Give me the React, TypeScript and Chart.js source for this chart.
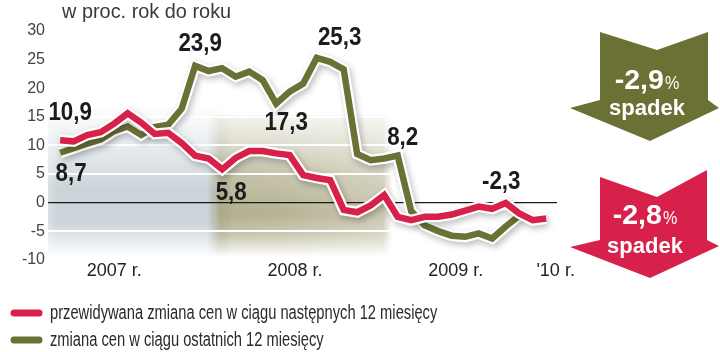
import React, { useEffect, useRef } from 'react';
import { Chart, registerables } from 'chart.js';

Chart.register(...registerables);

// ---------- DATA ----------
const MONTHS = [
  'I 2007', 'II 2007', 'III 2007', 'IV 2007', 'V 2007', 'VI 2007', 'VII 2007', 'VIII 2007', 'IX 2007', 'X 2007', 'XI 2007', 'XII 2007',
  'I 2008', 'II 2008', 'III 2008', 'IV 2008', 'V 2008', 'VI 2008', 'VII 2008', 'VIII 2008', 'IX 2008', 'X 2008', 'XI 2008', 'XII 2008',
  'I 2009', 'II 2009', 'III 2009', 'IV 2009', 'V 2009', 'VI 2009', 'VII 2009', 'VIII 2009', 'IX 2009', 'X 2009', 'XI 2009', 'XII 2009',
  'I 2010',
];

// przewidywana zmiana cen w ciągu następnych 12 miesięcy
const EXPECTED_CHANGE = [
  10.9, 10.7, 11.8, 12.3, 13.8, 15.6, 14.0, 12.0, 12.2, 10.4, 8.2, 7.7,
  5.8, 7.8, 9.0, 9.0, 8.6, 8.3, 4.8, 4.3, 3.9, -1.3, -1.7, -0.5,
  1.3, -2.5, -3.1, -2.5, -2.5, -2.1, -1.4, -0.7, -1.1, -0.1, -1.9, -3.1,
  -2.8,
];

// zmiana cen w ciągu ostatnich 12 miesięcy
const PAST_CHANGE = [
  8.7, 9.5, 10.3, 11.0, 12.5, 13.3, 11.8, 13.2, 13.6, 16.4, 23.9, 23.0,
  23.5, 22.0, 22.9, 21.4, 17.3, 19.4, 20.8, 25.3, 24.6, 23.3, 8.5, 7.4,
  7.7, 8.2, -1.5, -4.0, -5.0, -5.8, -6.0, -5.4, -6.3, -4.2, -2.3,
];

const Y_TICKS = [-10, -5, 0, 5, 10, 15, 20, 25, 30];
const YEAR_TICK_LABELS = ['2007 r.', '2008 r.', '2009 r.', "'10 r."];
const YEAR_TICK_MONTH = [4, 17.4, 29.3, 36.7];

const SERIES_NAMES = [
  'przewidywana zmiana cen w ciągu następnych 12 miesięcy',
  'zmiana cen w ciągu ostatnich 12 miesięcy',
];
const UNIT_LABEL = 'w proc. rok do roku';
const ARROW_VALUES = ['-2,9', '-2,8']; // past (green), expected (red)
const ARROW_WORD = 'spadek';

// which points carry a value label: [series (0 red, 1 green), month index]
const LABELLED_POINTS: [number, number][] = [
  [0, 0], [1, 0], [1, 10], [1, 19], [1, 16], [0, 12], [1, 25], [1, 34],
];

// ---------- STYLE ----------
const RED = '#d7204a';
const GREEN = '#6b7035';
const SANS = '"Liberation Sans", Arial, sans-serif';
// label offsets (px) relative to the labelled point
const LABEL_OFFSETS: [number, number][] = [
  [10, -27], [11, 21], [5, -22], [23, -20], [10, 19], [9, 23], [5, -18], [-18, -34],
];

const fmt = (v: number) => v.toFixed(1).replace('.', ',');

function scaledText(ctx: CanvasRenderingContext2D, text: string, x: number, y: number, sx: number) {
  ctx.save();
  ctx.translate(x, y);
  ctx.scale(sx, 1);
  ctx.fillText(text, 0, 0);
  ctx.restore();
}

function drawBand(chart: any, x0: number, x1: number, vTop: number, vBot: number,
  rgb: string, vStops: [number, number][], hStops: [number, number][]) {
  const { ctx, scales } = chart;
  const xs = scales.x;
  const ys = scales.y;
  const px0 = xs.getPixelForValue(x0);
  const px1 = xs.getPixelForValue(x1);
  const py0 = ys.getPixelForValue(vTop);
  const py1 = ys.getPixelForValue(vBot);
  const off = document.createElement('canvas');
  off.width = chart.width;
  off.height = chart.height;
  const o = off.getContext('2d') as CanvasRenderingContext2D;
  const g = o.createLinearGradient(0, py0, 0, py1);
  vStops.forEach(([t, a]) => g.addColorStop(t, `rgba(${rgb},${a})`));
  o.fillStyle = g;
  o.fillRect(px0, py0, px1 - px0, py1 - py0);
  o.globalCompositeOperation = 'destination-in';
  const h = o.createLinearGradient(px0, 0, px1, 0);
  hStops.forEach(([t, a]) => h.addColorStop(t, `rgba(0,0,0,${a})`));
  o.fillStyle = h;
  o.fillRect(px0, py0, px1 - px0, py1 - py0);
  ctx.drawImage(off, 0, 0);
}

function drawArrow(ctx: CanvasRenderingContext2D, pts: number[][], color: string) {
  ctx.beginPath();
  pts.forEach(([x, y], i) => (i ? ctx.lineTo(x, y) : ctx.moveTo(x, y)));
  ctx.closePath();
  ctx.fillStyle = color;
  ctx.fill();
}

function arrowText(ctx: CanvasRenderingContext2D, cx: number, base1: number, value: string, base2: number) {
  ctx.fillStyle = '#ffffff';
  ctx.textBaseline = 'alphabetic';
  ctx.textAlign = 'left';
  ctx.font = `bold 28px ${SANS}`;
  const w1 = ctx.measureText(value).width * 1.02;
  ctx.font = `19px ${SANS}`;
  const w2 = ctx.measureText('%').width * 0.85;
  const start = cx - (w1 + w2 + 1) / 2;
  ctx.font = `bold 28px ${SANS}`;
  scaledText(ctx, value, start, base1, 1.02);
  ctx.font = `19px ${SANS}`;
  scaledText(ctx, '%', start + w1 + 1, base1, 0.85);
  ctx.font = `bold 22px ${SANS}`;
  ctx.textAlign = 'center';
  ctx.fillText(ARROW_WORD, cx, base2);
}

const decorPlugin = {
  id: 'decor',
  beforeDraw(chart: any) {
    const { ctx } = chart;
    ctx.save();
    ctx.fillStyle = '#ffffff';
    ctx.fillRect(0, 0, chart.width, chart.height);
    // blue-grey band (2007)
    drawBand(chart, -0.9, 12.6, 17, -9.5, '170,186,194',
      [[0, 0], [0.3, 0.3], [0.55, 0.62], [0.78, 0.6], [1, 0]],
      [[0, 0.7], [0.05, 1], [0.9, 1], [1, 0.2]]);
    // olive band (2008)
    drawBand(chart, 10.9, 24.6, 15.3, -9.5, '148,144,98',
      [[0, 0.1], [0.15, 0.25], [0.4, 0.55], [0.7, 0.72], [0.85, 0.5], [1, 0]],
      [[0, 0], [0.07, 1], [0.4, 0.95], [0.95, 0.7], [1, 0]]);
    ctx.restore();
  },
  beforeDatasetDraw(chart: any, args: any) {
    const ds = chart.data.datasets[args.index];
    const ctx = chart.ctx;
    ctx.save();
    if (ds.isOutline) {
      ctx.shadowColor = 'rgba(0,0,0,0.25)';
      ctx.shadowBlur = 6;
      ctx.shadowOffsetX = 2;
      ctx.shadowOffsetY = 3;
    }
  },
  afterDatasetDraw(chart: any) {
    chart.ctx.restore();
  },
  afterDraw(chart: any) {
    const { ctx, scales } = chart;
    const xs = scales.x;
    const ys = scales.y;
    const series = [EXPECTED_CHANGE, PAST_CHANGE];
    ctx.save();
    // value labels
    ctx.fillStyle = '#1c1c1c';
    ctx.font = `bold 26px ${SANS}`;
    ctx.textAlign = 'center';
    ctx.textBaseline = 'middle';
    LABELLED_POINTS.forEach(([s, i], k) => {
      const v = series[s][i];
      const px = xs.getPixelForValue(i) + LABEL_OFFSETS[k][0];
      const py = ys.getPixelForValue(v) + LABEL_OFFSETS[k][1];
      scaledText(ctx, fmt(v), px, py, 0.86);
    });
    // unit title
    ctx.fillStyle = '#3a3a3a';
    ctx.font = `19.5px ${SANS}`;
    ctx.textAlign = 'left';
    ctx.textBaseline = 'alphabetic';
    scaledText(ctx, UNIT_LABEL, 62, 18, 1.02);
    // legend
    const legendColors = [RED, GREEN];
    SERIES_NAMES.forEach((name, k) => {
      const yy = 313 + k * 27;
      ctx.strokeStyle = legendColors[k];
      ctx.lineWidth = 7;
      ctx.lineCap = 'round';
      ctx.beginPath();
      ctx.moveTo(14, yy);
      ctx.lineTo(39, yy);
      ctx.stroke();
      ctx.fillStyle = '#2a2a2a';
      ctx.font = `20px ${SANS}`;
      ctx.textBaseline = 'middle';
      ctx.textAlign = 'left';
      scaledText(ctx, name, 50, yy, 0.735);
    });
    // arrows
    drawArrow(ctx, [[600, 32], [657, 50], [708, 32], [708, 100], [719, 108], [650, 141], [570, 108], [600, 100]], GREEN);
    arrowText(ctx, 647, 89, ARROW_VALUES[0], 115);
    drawArrow(ctx, [[600, 177], [657, 197], [707, 170], [707, 240], [719, 246], [650, 278], [570, 247], [600, 240]], RED);
    arrowText(ctx, 645, 224, ARROW_VALUES[1], 253);
    ctx.restore();
  },
};

export default function App() {
  const ref = useRef<HTMLCanvasElement>(null);
  useEffect(() => {
    if (!ref.current) return;
    const toXY = (arr: number[]) => arr.map((v, i) => ({ x: i, y: v, month: MONTHS[i] }));
    const chart = new Chart(ref.current, {
      type: 'line',
      data: {
        datasets: [
          { label: SERIES_NAMES[0], data: toXY(EXPECTED_CHANGE), borderColor: RED, borderWidth: 6.5, pointRadius: 0, tension: 0, borderJoinStyle: 'miter', order: 0 } as any,
          { label: 'o1', isOutline: true, data: toXY(EXPECTED_CHANGE), borderColor: '#ffffff', borderWidth: 11, pointRadius: 0, tension: 0, borderJoinStyle: 'miter', order: 1 } as any,
          { label: SERIES_NAMES[1], data: toXY(PAST_CHANGE), borderColor: GREEN, borderWidth: 6.5, pointRadius: 0, tension: 0, borderJoinStyle: 'miter', order: 2 } as any,
          { label: 'o2', isOutline: true, data: toXY(PAST_CHANGE), borderColor: '#ffffff', borderWidth: 11, pointRadius: 0, tension: 0, borderJoinStyle: 'miter', order: 3 } as any,
        ],
      },
      options: {
        animation: false,
        responsive: false,
        devicePixelRatio: 1,
        layout: { padding: { top: 31, left: 0, right: 163, bottom: 0 } },
        plugins: { legend: { display: false }, tooltip: { enabled: false }, title: { display: false } },
        scales: {
          x: {
            type: 'linear',
            min: -0.9,
            max: 36.8,
            afterBuildTicks: (s: any) => { s.ticks = YEAR_TICK_MONTH.map((v) => ({ value: v })); },
            afterFit: (s: any) => { s.height = 92.3; },
            grid: { display: false, drawTicks: false },
            border: { display: false },
            ticks: {
              autoSkip: false, maxRotation: 0, padding: 1, color: '#222',
              font: { family: SANS, size: 18 },
              callback: (_v: any, i: number) => YEAR_TICK_LABELS[i],
            },
          },
          y: {
            min: -10,
            max: 30,
            afterBuildTicks: (s: any) => { s.ticks = Y_TICKS.map((v) => ({ value: v })); },
            afterFit: (s: any) => { s.width = 48; },
            grid: {
              drawTicks: false,
              color: (c: any) => (c.tick && c.tick.value === 0 ? '#1a1a1a' : '#ffffff'),
              lineWidth: (c: any) => (c.tick && c.tick.value === 0 ? 1.3 : 2),
            },
            border: { display: false },
            ticks: { padding: 3, color: '#444', font: { family: SANS, size: 16 } },
          },
        },
      },
      plugins: [decorPlugin],
    });
    return () => chart.destroy();
  }, []);
  return (
    <div style={{ position: 'fixed', left: 0, top: 0, width: 720, height: 352, background: '#fff' }}>
      <canvas ref={ref} width={720} height={352} style={{ display: 'block', width: 720, height: 352 }} />
    </div>
  );
}
